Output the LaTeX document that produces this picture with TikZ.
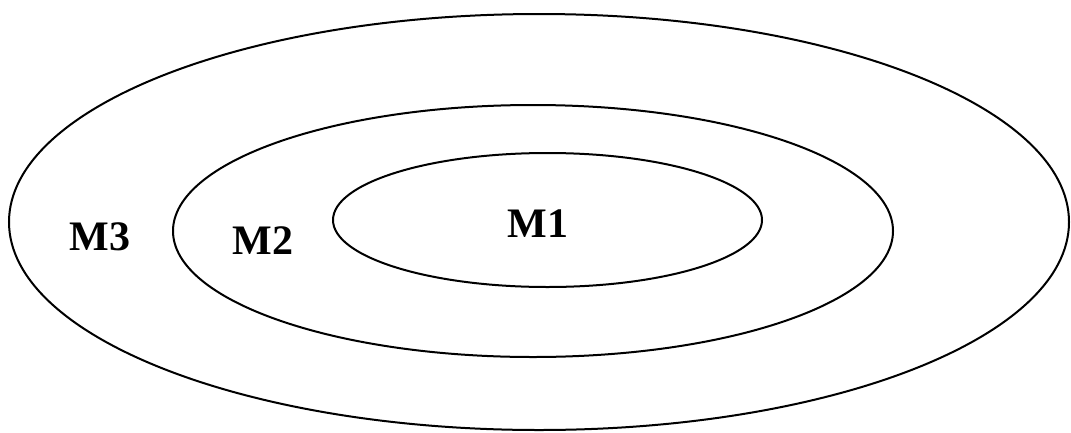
\documentclass[tikz,border=0pt]{standalone}
\usepackage{fontspec}
\setmainfont{Liberation Serif}
\usetikzlibrary{shapes.geometric}
\tikzset{
  level/.style={ellipse, draw, line width=2pt, inner sep=0pt},
  lab/.style={font=\fontsize{42}{42}\selectfont\bfseries, inner sep=0pt},
}

\begin{document}
\begin{tikzpicture}[x=1pt, y=-1pt]
  \useasboundingbox (0,0) rectangle (1071,432);

  % Nested levels
  \node[level, minimum width=1060pt, minimum height=416pt] (outer) at (539,222) {};
  \node[level, minimum width=720pt, minimum height=252pt] (middle) at (533,231) {};
  \node[level, minimum width=429pt, minimum height=134pt] (inner) at (547.5,220) {};

  % Labels
  \node[lab] (m1) at (538,224) {M1};
  \node[lab] (m2) at (263,241) {M2};
  \node[lab] (m3) at (100,237) {M3};
\end{tikzpicture}
\end{document}
